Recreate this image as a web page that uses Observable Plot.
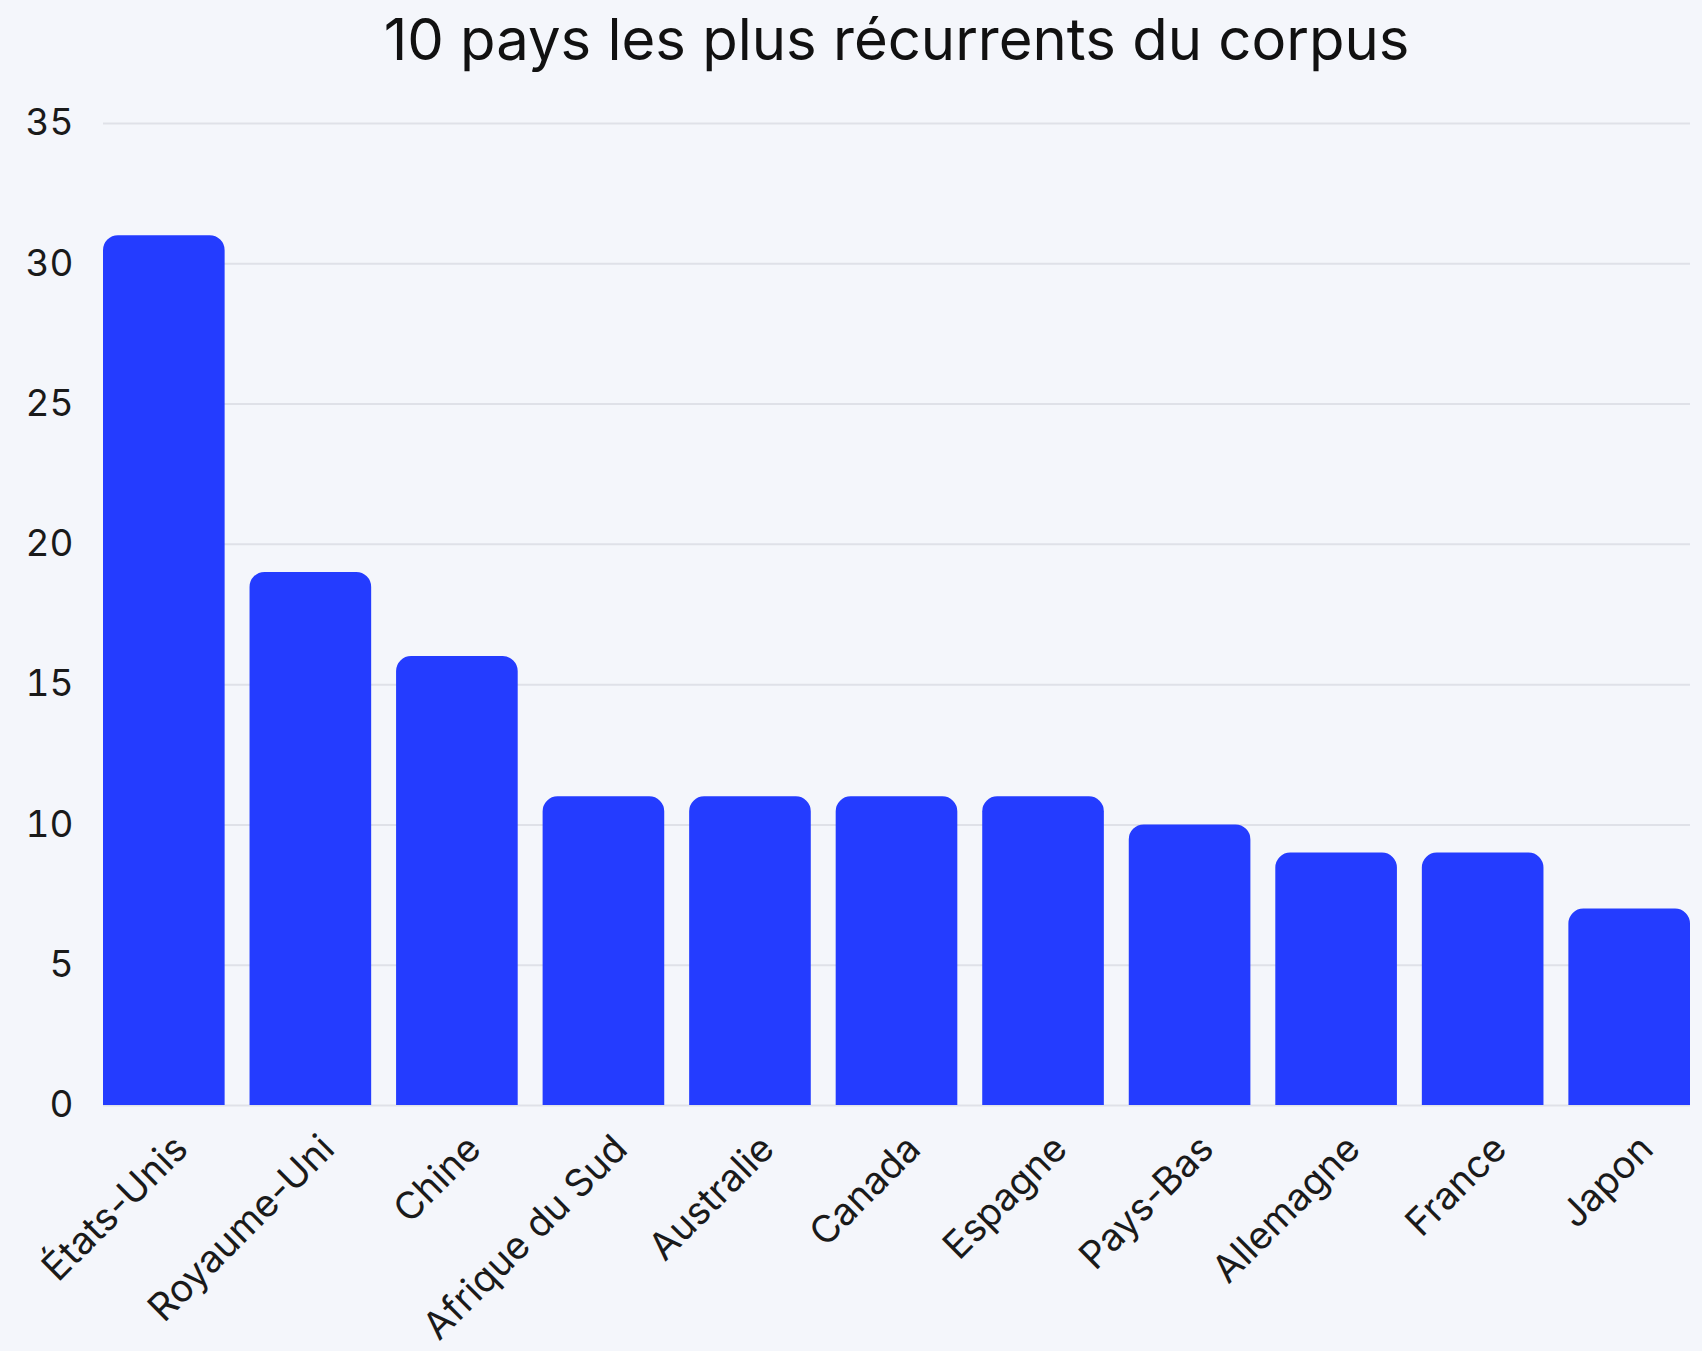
<!DOCTYPE html>
<html>
<head>
<meta charset="utf-8">
<script src="https://cdn.jsdelivr.net/npm/d3@7"></script>
<script src="https://cdn.jsdelivr.net/npm/@observablehq/plot@0.6"></script>
<style>
  html, body { margin: 0; padding: 0; background: #f4f6fb; }
  body { width: 1702px; height: 1351px; overflow: hidden; font-family: Inter, "Noto Sans", sans-serif; }
  #title { box-sizing: border-box; height: 80px; padding: 10px 12px 0 103px; text-align: center; font-size: 58px; line-height: 58px; color: #111; font-weight: 400; white-space: nowrap; }
  #chart svg { display: block; }
</style>
</head>
<body>
<div id="title">10 pays les plus récurrents du corpus</div>
<div id="chart"></div>
<script>
const countries = ["États-Unis", "Royaume-Uni", "Chine", "Afrique du Sud", "Australie", "Canada", "Espagne", "Pays-Bas", "Allemagne", "France", "Japon"];
const counts = [31, 19, 16, 11, 11, 11, 11, 10, 9, 9, 7];
const yTicks = [0, 5, 10, 15, 20, 25, 30, 35];

const data = countries.map((c, i) => ({country: c, count: counts[i]}));

const chart = Plot.plot({
  width: 1702,
  height: 1271,
  marginTop: 43,
  marginBottom: 246,
  marginLeft: 103,
  marginRight: 12,
  style: {background: "transparent", fontFamily: "Inter, 'Noto Sans', sans-serif", color: "#1a1a1a"},
  x: {domain: countries, paddingInner: 0.17, paddingOuter: 0, round: false, label: null},
  y: {domain: [0, 35], label: null},
  marks: [
    Plot.gridY(yTicks, {stroke: "#dfe1e8", strokeOpacity: 1, strokeWidth: 2}),
    Plot.barY(data, {x: "country", y: "count", fill: "#243cff", ry1: 15}),
    Plot.axisY(yTicks, {tickSize: 0, tickPadding: 30, fontSize: 37, fill: "#1a1a1a"}),
    Plot.axisX({tickSize: 0, tickRotate: -45, fontSize: 38, tickPadding: 37, dx: 17, fill: "#1a1a1a"})
  ]
});
document.getElementById("chart").appendChild(chart);
</script>
</body>
</html>
